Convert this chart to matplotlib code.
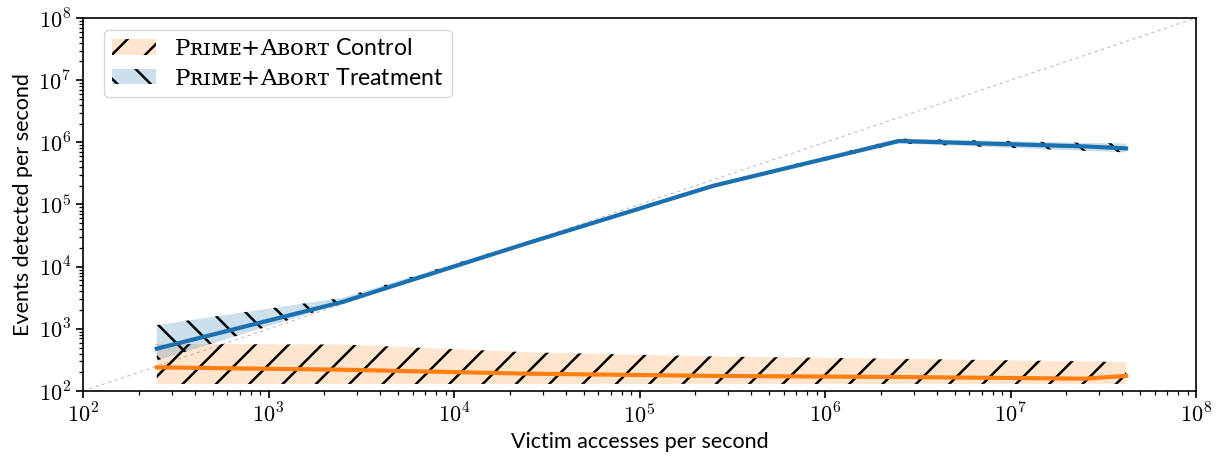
import matplotlib
matplotlib.use("Agg")
import matplotlib.pyplot as plt
from matplotlib.patches import Patch
from matplotlib.ticker import FuncFormatter, LogLocator, NullFormatter
import numpy as np

plt.rcParams['mathtext.fontset'] = 'cm'
plt.rcParams['font.family'] = ['Lato', 'DejaVu Sans']
plt.rcParams['hatch.linewidth'] = 1.8

# Victim access rates (per second)
rates = [250, 2500, 25000, 250000, 2.5e6, 2.5e7, 4.2e7]

# Control: median and spread of detected events per second
control_mid = [240, 220, 190, 175, 168, 158, 175]
control_lo = [130, 130, 130, 130, 130, 130, 130]
control_hi = [570, 560, 420, 360, 330, 300, 290]

# Treatment: median and spread of detected events per second
treat_mid = [480, 2700, 24000, 200000, 1.05e6, 8.6e5, 8.0e5]
treat_lo = [310, 2550, 23000, 192000, 0.96e6, 7.3e5, 6.9e5]
treat_hi = [1150, 3150, 25500, 212000, 1.15e6, 9.8e5, 9.6e5]

label_control = r"$\mathrm{Pʀɪᴍᴇ{+}Aʙᴏʀᴛ}$ Control"
label_treat = r"$\mathrm{Pʀɪᴍᴇ{+}Aʙᴏʀᴛ}$ Treatment"

blue = '#1a70b0'
orange = '#ff7f0e'

fig = plt.figure(figsize=(12.25, 4.66), dpi=100)
ax = fig.add_axes([83 / 1225, 1 - 391 / 466, (1196 - 83) / 1225, (391 - 18) / 466])

# y = x reference line
diag = np.array([1e2, 1e8])
ax.plot(diag, diag, ls=(0, (3, 3)), color='#c0c0c0', lw=0.8, zorder=1)

ax.fill_between(rates, control_lo, control_hi, facecolor=orange, alpha=0.2,
                edgecolor='none', zorder=2)
ax.fill_between(rates, control_lo, control_hi, facecolor='none', hatch='/',
                edgecolor='black', lw=0, zorder=2)
ax.fill_between(rates, treat_lo, treat_hi, facecolor=blue, alpha=0.22,
                edgecolor='none', zorder=2)
ax.fill_between(rates, treat_lo, treat_hi, facecolor='none', hatch='\\',
                edgecolor='black', lw=0, zorder=2)

ax.plot(rates, control_mid, color=orange, lw=3, zorder=3)
ax.plot(rates, treat_mid, color=blue, lw=3, zorder=3)

handles = [
    Patch(facecolor=(1.0, 0.5, 0.05, 0.2), edgecolor='black', hatch='/', lw=0),
    Patch(facecolor=(0.1, 0.44, 0.69, 0.22), edgecolor='black', hatch='\\', lw=0),
]
leg = ax.legend(handles, [label_control, label_treat], loc='upper left',
                bbox_to_anchor=(21 / 1113, 1 - 12 / 373), borderaxespad=0,
                fontsize=16.6, handlelength=1.9, handleheight=0.65, fancybox=True,
                framealpha=0.8, borderpad=0.35, labelspacing=0.38,
                handletextpad=0.8)
for t in leg.get_texts():
    t.set_math_fontfamily('dejavuserif')

ax.set_xscale('log')
ax.set_yscale('log')
ax.set_xlim(1e2, 1e8)
ax.set_ylim(1e2, 1e8)

minor = LogLocator(base=10, subs=np.arange(2, 10), numticks=100)
ax.yaxis.set_minor_locator(minor)
ax.yaxis.set_minor_formatter(NullFormatter())
ax.xaxis.set_minor_formatter(NullFormatter())

pow_fmt = FuncFormatter(lambda v, pos: r'$10^{%d}$' % round(np.log10(v)))
ax.xaxis.set_major_formatter(pow_fmt)
ax.yaxis.set_major_formatter(pow_fmt)

ax.set_xlabel('Victim accesses per second', fontsize=15.5)
ax.set_ylabel('Events detected per second', fontsize=15.5)
ax.tick_params(which='major', labelsize=16, length=5, width=1.2)
ax.tick_params(which='minor', length=3, width=0.9)
for s in ax.spines.values():
    s.set_linewidth(1.2)

fig.savefig('out.png', dpi=100)
